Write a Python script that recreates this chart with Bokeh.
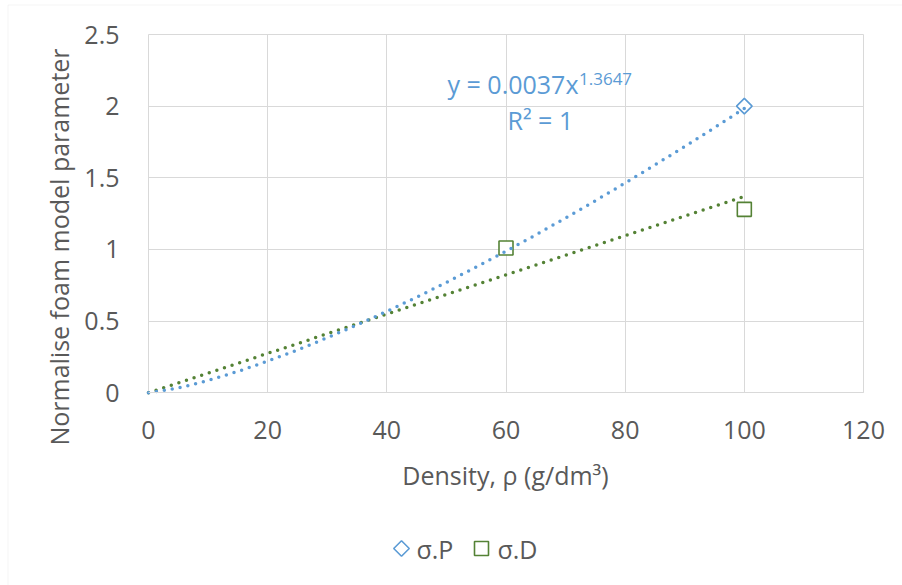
import numpy as np
from bokeh.plotting import figure
from bokeh.models import Range1d, Label, FixedTicker, BoxAnnotation
from bokeh.embed import file_html
from bokeh.resources import INLINE

# ---- data ----
sigma_p_x = [100]
sigma_p_y = [2.0]
sigma_d_x = [60, 100]
sigma_d_y = [1.01, 1.28]

trend_x = [0, 5, 10, 15, 20, 25, 30, 35, 40, 45, 50, 55, 60, 65, 70, 75, 80, 85, 90, 95, 100]
trend_p_y = [0.0, 0.033, 0.086, 0.149, 0.221, 0.299, 0.384, 0.474, 0.568, 0.667, 0.770,
             0.878, 0.988, 1.102, 1.220, 1.340, 1.464, 1.590, 1.719, 1.850, 1.984]
trend_d_y = [0.0, 0.069, 0.138, 0.206, 0.275, 0.343, 0.412, 0.480, 0.549, 0.617, 0.686,
             0.754, 0.823, 0.891, 0.960, 1.028, 1.097, 1.165, 1.234, 1.302, 1.370]

x_ticks = [0, 20, 40, 60, 80, 100, 120]
x_tick_labels = ["0", "20", "40", "60", "80", "100", "120"]
y_ticks = [0, 0.5, 1.0, 1.5, 2.0, 2.5]
y_tick_labels = ["0", "0.5", "1", "1.5", "2", "2.5"]

series_names = ["σ.P", "σ.D"]
eq_main = "y = 0.0037x"
eq_sup = "1.3647"
eq_r2 = "R² = 1"
x_title = "Density, ρ (g/dm³)"
y_title = "Normalise foam model parameter"

FONT = "Open Sans"
TXT = "#595959"
BLUE = "#5B9BD5"
GREEN = "#548235"
GRID = "#D9D9D9"

# ---- layout (pixels of the 902x585 page) ----
W, H = 902, 585
PX_X0, PX_X120 = 148.0, 863.0      # x = 0 and x = 120
PX_Y0, PX_Y25 = 392.3, 34.0        # y = 0 and y = 2.5
sx = (PX_X120 - PX_X0) / (x_ticks[-1] - x_ticks[0])
sy = (PX_Y0 - PX_Y25) / (y_ticks[-1] - y_ticks[0])
def dx(px):
    return (px - PX_X0) / sx
def dy(py):
    return (PX_Y0 - py) / sy

# the frame covers the whole page, so axes are pinned at 0 and every text
# (titles, legend) lies inside it
p = figure(width=W, height=H, output_backend="svg", toolbar_location=None, title=None,
           x_range=Range1d(dx(0), dx(W)), y_range=Range1d(dy(H), dy(0)),
           min_border_left=0, min_border_right=0, min_border_top=0, min_border_bottom=0)
p.background_fill_color = "white"
p.border_fill_color = "white"
p.outline_line_color = None

for ax, ticks, labels in ((p.xaxis[0], x_ticks, x_tick_labels), (p.yaxis[0], y_ticks, y_tick_labels)):
    ax.ticker = FixedTicker(ticks=ticks)
    ax.major_label_overrides = {t: l for t, l in zip(ticks, labels)}
    ax.major_label_text_font = FONT
    ax.major_label_text_font_size = "25px"
    ax.major_label_text_color = TXT
    ax.major_tick_line_color = None
    ax.minor_tick_line_color = None
    ax.fixed_location = 0
    ax.bounds = (ticks[0], ticks[-1])
p.xaxis.axis_line_color = GRID
p.xaxis.major_label_standoff = 22
p.yaxis.axis_line_color = None
p.yaxis.major_label_standoff = 23

p.ygrid.ticker = FixedTicker(ticks=y_ticks)
p.ygrid.grid_line_color = GRID
p.ygrid.cross_bounds = (x_ticks[0], x_ticks[-1])
p.xgrid.ticker = FixedTicker(ticks=x_ticks)
p.xgrid.grid_line_color = GRID
p.xgrid.cross_bounds = (y_ticks[0], y_ticks[-1])

# chart-area border (left and top edges are visible on the page)
p.add_layout(BoxAnnotation(left=dx(7.5), top=dy(4.5), right=dx(W + 50), bottom=dy(H + 50),
                           fill_alpha=0, line_color=GRID, line_width=1))

# markers (under trendlines, as in Excel)
p.scatter(sigma_p_x, sigma_p_y, marker="square", angle=np.pi / 4, size=11,
          fill_color="white", line_color=BLUE, line_width=1.6)
p.scatter(sigma_d_x, sigma_d_y, marker="square", size=14,
          fill_color="white", line_color=GREEN, line_width=1.6)

# trendlines
p.line(trend_x, trend_d_y, line_color=GREEN, line_width=3.5, line_dash="0 8", line_cap="round")
p.line(trend_x, trend_p_y, line_color=BLUE, line_width=3.5, line_dash="0 8", line_cap="round")

# trendline equation (positions are the centres of the capitals)
p.add_layout(Label(x=dx(578), y=dy(83.5), text=eq_main, text_align="right", text_baseline="middle",
                   text_font=FONT, text_font_size="25px", text_color=BLUE))
p.add_layout(Label(x=dx(578.5), y=dy(78), text=eq_sup, text_align="left", text_baseline="middle",
                   text_font=FONT, text_font_size="17px", text_color=BLUE))
p.add_layout(Label(x=dx(507), y=dy(119), text=eq_r2, text_align="left", text_baseline="middle",
                   text_font=FONT, text_font_size="25px", text_color=BLUE))

# axis titles
p.add_layout(Label(x=dx(505), y=dy(474), text=x_title, text_align="center", text_baseline="middle",
                   text_font=FONT, text_font_size="25px", text_color=TXT))
p.add_layout(Label(x=dx(58), y=dy(246.5), text=y_title, text_align="center", text_baseline="middle",
                   angle=np.pi / 2, text_font=FONT, text_font_size="25px", text_color=TXT))

# legend (keys drawn as the series' own markers, Excel style)
LEG_Y = dy(548)
p.scatter([dx(401)], [LEG_Y], marker="square", angle=np.pi / 4, size=11,
          fill_color="white", line_color=BLUE, line_width=1.6)
p.scatter([dx(481)], [LEG_Y], marker="square", size=14,
          fill_color="white", line_color=GREEN, line_width=1.6)
p.add_layout(Label(x=dx(416), y=LEG_Y, text=series_names[0], text_align="left", text_baseline="middle",
                   text_font=FONT, text_font_size="25px", text_color=TXT))
p.add_layout(Label(x=dx(497), y=LEG_Y, text=series_names[1], text_align="left", text_baseline="middle",
                   text_font=FONT, text_font_size="25px", text_color=TXT))

open("out.html", "w").write(file_html(p, INLINE))
